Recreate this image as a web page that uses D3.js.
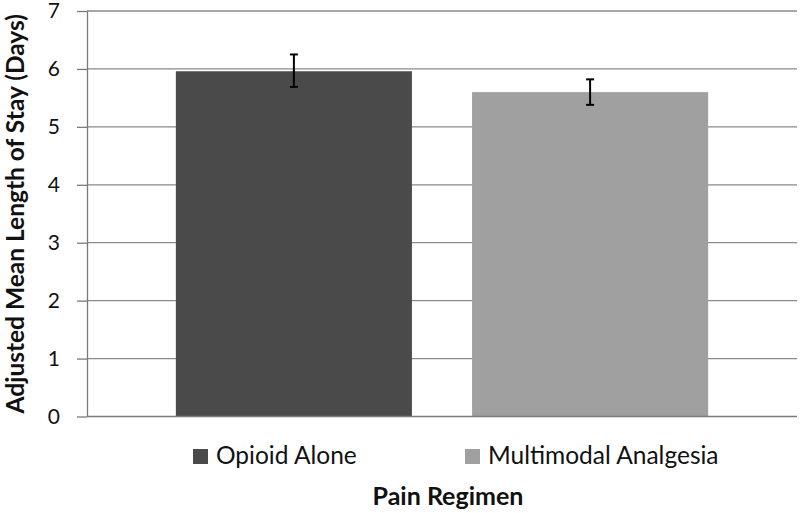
<!DOCTYPE html>
<html><head><meta charset="utf-8">
<script src="https://cdn.jsdelivr.net/npm/d3@7"></script>
<style>html,body{margin:0;padding:0;background:#fff;}svg{display:block;}</style>
</head><body>
<svg id="chart" width="800" height="513"></svg>
<script>
const categories = ["Opioid Alone", "Multimodal Analgesia"];
const values = [5.96, 5.60];
const errLow = [5.69, 5.38];
const errHigh = [6.25, 5.82];
const yTicks = [0, 1, 2, 3, 4, 5, 6, 7];
const colors = ["#4a4a4a", "#a0a0a0"];

const svg = d3.select("#chart");
const margin = {left: 87, right: 3, top: 11, bottom: 96.5};
const W = 800, H = 513;
const x = d3.scaleBand().domain(categories).range([margin.left, W - margin.right])
  .paddingInner(0.203).paddingOuter(0.3);
const y = d3.scaleLinear().domain([0, 7]).range([H - margin.bottom, margin.top]);
const font = "Lato, 'Open Sans', sans-serif";

// gridlines
svg.append("g").selectAll("line").data(yTicks.filter(d => d > 0)).join("line")
  .attr("x1", margin.left).attr("x2", W - margin.right)
  .attr("y1", d => y(d)).attr("y2", d => y(d))
  .attr("stroke", "#8a8a8a").attr("stroke-width", 1.3);

// bars
svg.append("g").selectAll("rect").data(categories).join("rect")
  .attr("x", d => x(d)).attr("width", x.bandwidth())
  .attr("y", (d, i) => y(values[i])).attr("height", (d, i) => y(0) - y(values[i]))
  .attr("fill", (d, i) => colors[i]);

// error bars
const eb = svg.append("g").attr("stroke", "#000").attr("stroke-width", 2);
categories.forEach((c, i) => {
  const cx = x(c) + x.bandwidth() / 2;
  eb.append("line").attr("x1", cx).attr("x2", cx).attr("y1", y(errHigh[i])).attr("y2", y(errLow[i]));
  eb.append("line").attr("x1", cx - 4).attr("x2", cx + 4).attr("y1", y(errHigh[i])).attr("y2", y(errHigh[i]));
  eb.append("line").attr("x1", cx - 4).attr("x2", cx + 4).attr("y1", y(errLow[i])).attr("y2", y(errLow[i]));
});

// y axis
const yAxis = d3.axisLeft(y).tickValues(yTicks).tickFormat(d3.format("d"))
  .tickSize(10).tickPadding(17).tickSizeOuter(0);
const ga = svg.append("g").attr("transform", `translate(${margin.left},0)`).call(yAxis);
ga.select(".domain").attr("stroke", "#7a7a7a").attr("stroke-width", 1.3);
ga.selectAll(".tick line").attr("stroke", "#7a7a7a").attr("stroke-width", 1.3);
ga.selectAll(".tick text").attr("font-family", font).attr("font-size", 21).attr("fill", "#111");

// x baseline
svg.append("line").attr("x1", margin.left).attr("x2", W - margin.right)
  .attr("y1", y(0)).attr("y2", y(0)).attr("stroke", "#7a7a7a").attr("stroke-width", 1.3);

// legend
const legX = [193, 465];
const lg = svg.append("g");
categories.forEach((c, i) => {
  lg.append("rect").attr("x", legX[i]).attr("y", 449).attr("width", 15).attr("height", 15).attr("fill", colors[i]);
  lg.append("text").attr("x", legX[i] + 23).attr("y", 464).attr("font-family", font)
    .attr("font-size", 24.5).attr("fill", "#111").text(c);
});

// axis titles
svg.append("text").attr("x", 448).attr("y", 505).attr("text-anchor", "middle")
  .attr("font-family", font).attr("font-weight", "bold").attr("font-size", 25).attr("fill", "#111")
  .text("Pain Regimen");
svg.append("text").attr("transform", `translate(24,${(y(0) + y(7)) / 2}) rotate(-90)`)
  .attr("text-anchor", "middle").attr("font-family", font).attr("font-weight", "bold")
  .attr("font-size", 24.5).attr("fill", "#111").text("Adjusted Mean Length of Stay (Days)");
</script>
</body></html>
